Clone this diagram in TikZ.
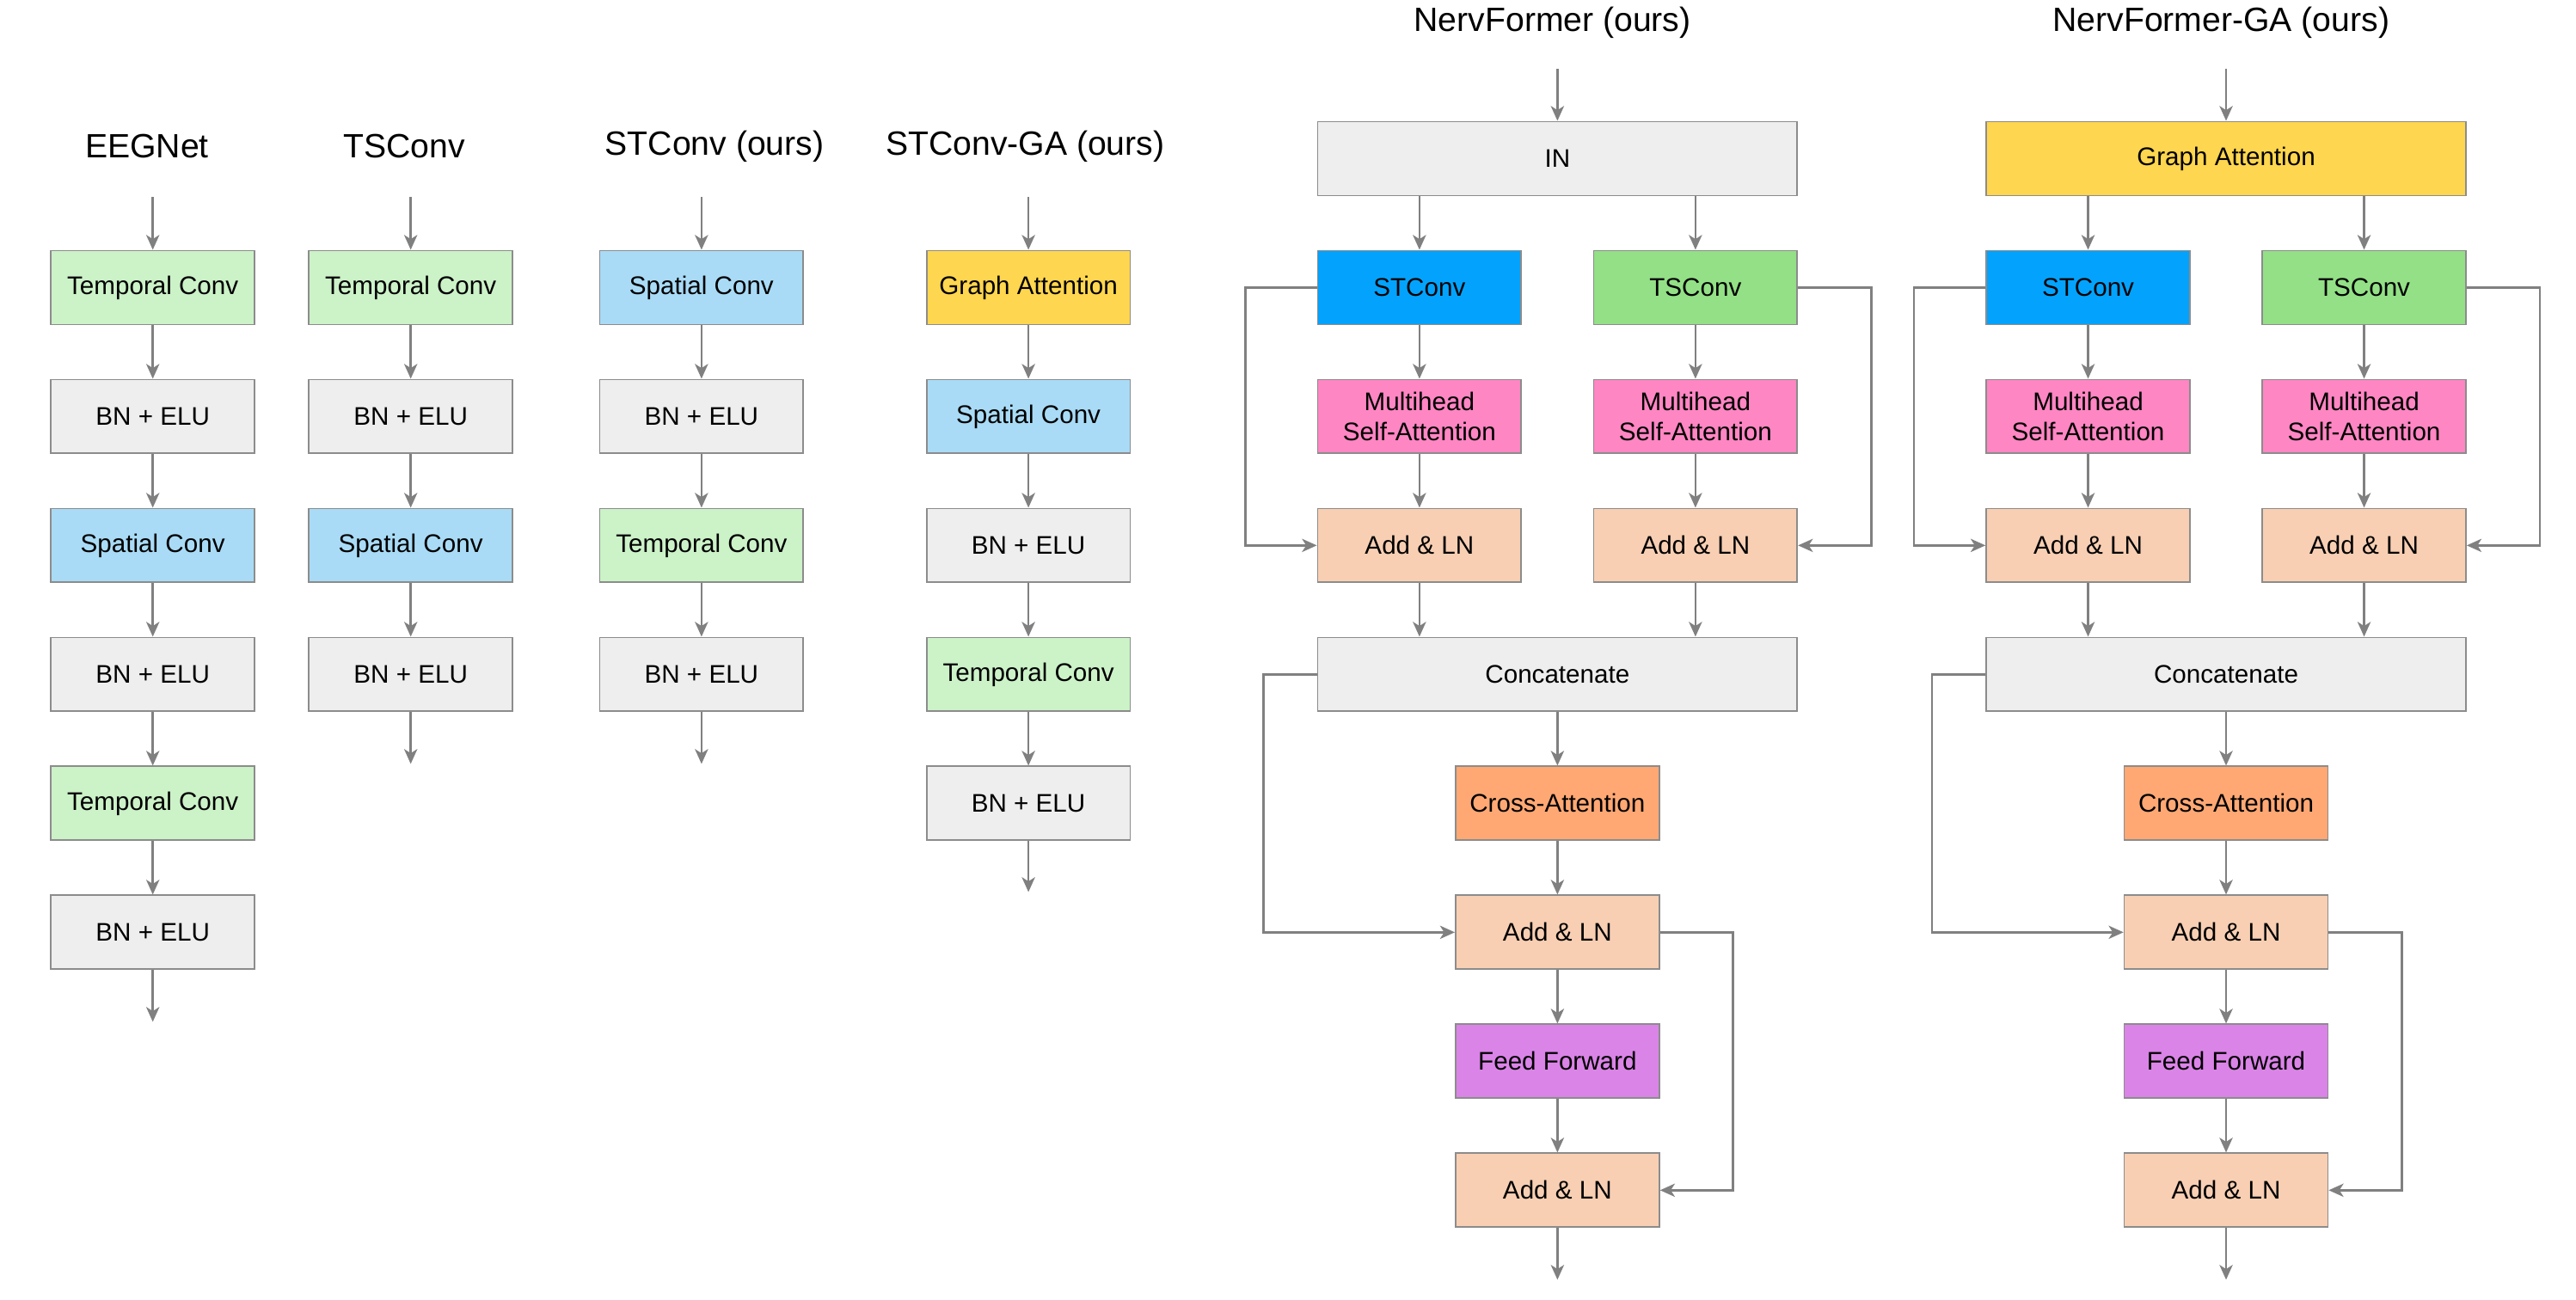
\documentclass[tikz,border=0pt]{standalone}
\usepackage{fontspec}
\setmainfont{Liberation Sans}
\usetikzlibrary{arrows.meta}
\definecolor{cgreen}{HTML}{CCF2C8}
\definecolor{cgray}{HTML}{EEEEEE}
\definecolor{cblue}{HTML}{A9DBF6}
\definecolor{cyellow}{HTML}{FFD64F}
\definecolor{cstblue}{HTML}{03A3FD}
\definecolor{ctsgreen}{HTML}{93E086}
\definecolor{cpink}{HTML}{FE86C3}
\definecolor{cpeach}{HTML}{F8CFB3}
\definecolor{corange}{HTML}{FFA874}
\definecolor{cpurple}{HTML}{DA84E7}
\definecolor{cborder}{HTML}{8C8C8C}
\definecolor{carrow}{HTML}{808080}

\newcommand{\nervcol}[5]{%
  \node[title] (#1title) at (#2-3,14) {#3};
  \coordinate (#1in) at (#2,42);
  \node[widebox,fill=#5] (#1top) at (#2,96.5) {#4};
  \node[box,fill=cstblue] (#1st) at (#2-84,175) {STConv};
  \node[box,fill=ctsgreen] (#1ts) at (#2+84,175) {TSConv};
  \node[box,fill=cpink] (#1msaA) at (#2-84,253.5) {Multihead\\Self-Attention};
  \node[box,fill=cpink] (#1msaB) at (#2+84,253.5) {Multihead\\Self-Attention};
  \node[box,fill=cpeach] (#1addA) at (#2-84,332) {Add \& LN};
  \node[box,fill=cpeach] (#1addB) at (#2+84,332) {Add \& LN};
  \node[widebox,fill=cgray] (#1cat) at (#2,410.5) {Concatenate};
  \node[box,fill=corange] (#1ca) at (#2,489) {Cross-Attention};
  \node[box,fill=cpeach] (#1addC) at (#2,567.5) {Add \& LN};
  \node[box,fill=cpurple] (#1ff) at (#2,646) {Feed Forward};
  \node[box,fill=cpeach] (#1addD) at (#2,724.5) {Add \& LN};
  \coordinate (#1out) at (#2,779);
  \draw[arr] (#1in) -- (#1top);
  \draw[arr] (#1top.south -| #1st.north) -- (#1st.north);
  \draw[arr] (#1top.south -| #1ts.north) -- (#1ts.north);
  \draw[arr] (#1st) -- (#1msaA);
  \draw[arr] (#1ts) -- (#1msaB);
  \draw[arr] (#1msaA) -- (#1addA);
  \draw[arr] (#1msaB) -- (#1addB);
  \draw[arr] (#1addA.south) -- (#1cat.north -| #1addA.south);
  \draw[arr] (#1addB.south) -- (#1cat.north -| #1addB.south);
  \draw[arr] (#1cat) -- (#1ca);
  \draw[arr] (#1ca) -- (#1addC);
  \draw[arr] (#1addC) -- (#1ff);
  \draw[arr] (#1ff) -- (#1addD);
  \draw[arr] (#1addD) -- (#1out);
  \coordinate (#1skA) at (#2-190,175);
  \coordinate (#1skB) at (#2+191,175);
  \coordinate (#1skC) at (#2-179,410.5);
  \coordinate (#1skD) at (#2+107,567.5);
  \draw[arr] (#1st.west) -- (#1skA) |- (#1addA.west);
  \draw[arr] (#1ts.east) -- (#1skB) |- (#1addB.east);
  \draw[arr] (#1cat.west) -- (#1skC) |- (#1addC.west);
  \draw[arr] (#1addC.east) -- (#1skD) |- (#1addD.east);
}

\begin{document}
\begin{tikzpicture}[x=1pt,y=-1pt,
  box/.style={draw=cborder, line width=0.9pt, minimum width=124pt, minimum height=45pt,
    inner sep=0pt, align=center, text=black, font=\fontsize{15.5}{18}\selectfont},
  widebox/.style={box, minimum width=292pt},
  title/.style={inner sep=0pt, font=\fontsize{20.5}{24}\selectfont},
  arr/.style={draw=carrow, line width=1.4pt, -{Stealth[length=9pt,width=8pt,inset=2.5pt]}},
]
\useasboundingbox (0,0) rectangle (1568,791.3);

% EEGNet
\node[title] (t1) at (89.5,89) {EEGNet};
\coordinate (e0) at (93,120);
\node[box,fill=cgreen] (e1) at (93,175) {Temporal Conv};
\node[box,fill=cgray] (e2) at (93,253.5) {BN + ELU};
\node[box,fill=cblue] (e3) at (93,332) {Spatial Conv};
\node[box,fill=cgray] (e4) at (93,410.5) {BN + ELU};
\node[box,fill=cgreen] (e5) at (93,489) {Temporal Conv};
\node[box,fill=cgray] (e6) at (93,567.5) {BN + ELU};
\coordinate (e7) at (93,622);
\draw[arr] (e0) -- (e1);
\draw[arr] (e1) -- (e2);
\draw[arr] (e2) -- (e3);
\draw[arr] (e3) -- (e4);
\draw[arr] (e4) -- (e5);
\draw[arr] (e5) -- (e6);
\draw[arr] (e6) -- (e7);

% TSConv
\node[title] (t2) at (246,89) {TSConv};
\coordinate (s0) at (250,120);
\node[box,fill=cgreen] (s1) at (250,175) {Temporal Conv};
\node[box,fill=cgray] (s2) at (250,253.5) {BN + ELU};
\node[box,fill=cblue] (s3) at (250,332) {Spatial Conv};
\node[box,fill=cgray] (s4) at (250,410.5) {BN + ELU};
\coordinate (s5) at (250,465);
\draw[arr] (s0) -- (s1);
\draw[arr] (s1) -- (s2);
\draw[arr] (s2) -- (s3);
\draw[arr] (s3) -- (s4);
\draw[arr] (s4) -- (s5);

% STConv (ours)
\node[title] (t3) at (435,89) {STConv (ours)};
\coordinate (c0) at (427,120);
\node[box,fill=cblue] (c1) at (427,175) {Spatial Conv};
\node[box,fill=cgray] (c2) at (427,253.5) {BN + ELU};
\node[box,fill=cgreen] (c3) at (427,332) {Temporal Conv};
\node[box,fill=cgray] (c4) at (427,410.5) {BN + ELU};
\coordinate (c5) at (427,465);
\draw[arr] (c0) -- (c1);
\draw[arr] (c1) -- (c2);
\draw[arr] (c2) -- (c3);
\draw[arr] (c3) -- (c4);
\draw[arr] (c4) -- (c5);

% STConv-GA (ours)
\node[title] (t4) at (624,89) {STConv-GA (ours)};
\coordinate (g0) at (626,120);
\node[box,fill=cyellow] (g1) at (626,175) {Graph Attention};
\node[box,fill=cblue] (g2) at (626,253.5) {Spatial Conv};
\node[box,fill=cgray] (g3) at (626,332) {BN + ELU};
\node[box,fill=cgreen] (g4) at (626,410.5) {Temporal Conv};
\node[box,fill=cgray] (g5) at (626,489) {BN + ELU};
\coordinate (g6) at (626,543);
\draw[arr] (g0) -- (g1);
\draw[arr] (g1) -- (g2);
\draw[arr] (g2) -- (g3);
\draw[arr] (g3) -- (g4);
\draw[arr] (g4) -- (g5);
\draw[arr] (g5) -- (g6);

% NervFormer and NervFormer-GA
\nervcol{nf}{948}{NervFormer (ours)}{IN}{cgray}
\nervcol{ng}{1355}{NervFormer-GA (ours)}{Graph Attention}{cyellow}
\end{tikzpicture}
\end{document}
